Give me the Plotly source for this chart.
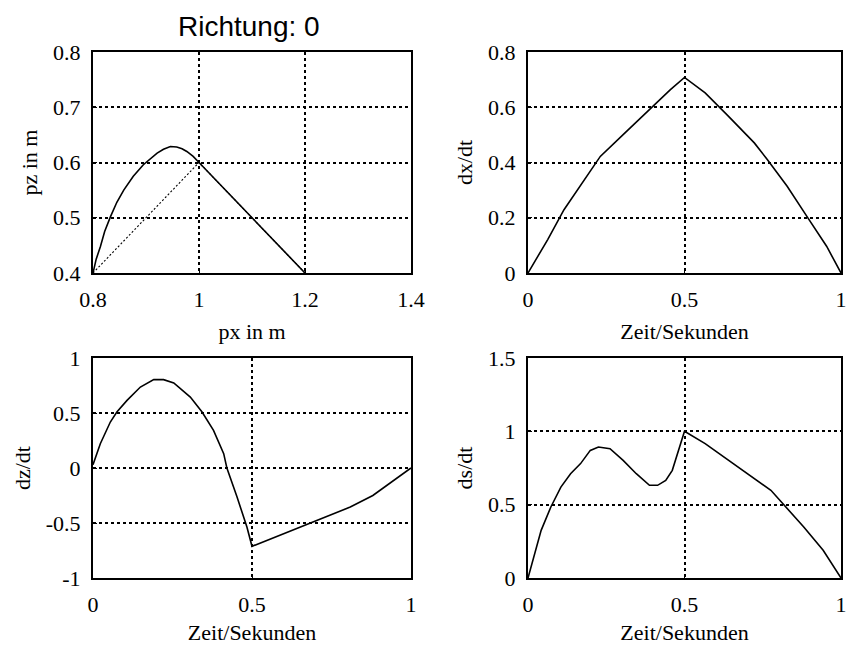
import plotly.graph_objects as go

# ---- data ----
# top-left: path in x-z plane
px_actual = [0.800, 0.806, 0.814, 0.822, 0.833, 0.845, 0.858, 0.876, 0.895, 0.908, 0.921, 0.933, 0.946, 0.958, 0.968, 0.977, 0.989, 1.000, 1.050, 1.100, 1.150, 1.200]
pz_actual = [0.400, 0.425, 0.448, 0.475, 0.502, 0.528, 0.550, 0.575, 0.596, 0.607, 0.617, 0.624, 0.629, 0.628, 0.625, 0.620, 0.611, 0.600, 0.550, 0.500, 0.450, 0.400]
px_plan = [0.8, 1.0, 1.2]
pz_plan = [0.4, 0.6, 0.4]

# time samples
t_dx = [0.0, 0.063, 0.115, 0.175, 0.231, 0.304, 0.360, 0.409, 0.455, 0.500, 0.566, 0.640, 0.723, 0.765, 0.828, 0.891, 0.954, 1.0]
dx_dt = [0.0, 0.121, 0.229, 0.330, 0.422, 0.501, 0.562, 0.615, 0.664, 0.708, 0.652, 0.568, 0.471, 0.410, 0.314, 0.205, 0.097, 0.0]

t_dz = [0.0, 0.023, 0.0545, 0.075, 0.107, 0.149, 0.191, 0.222, 0.254, 0.306, 0.343, 0.379, 0.411, 0.421, 0.453, 0.484, 0.500, 0.547, 0.600, 0.704, 0.809, 0.880, 0.945, 1.0]
dz_dt = [0.03, 0.221, 0.418, 0.509, 0.615, 0.736, 0.803, 0.803, 0.773, 0.645, 0.509, 0.342, 0.130, 0.0, -0.264, -0.536, -0.712, -0.658, -0.597, -0.476, -0.355, -0.250, -0.112, 0.0]

t_ds = [0.0, 0.021, 0.042, 0.073, 0.105, 0.136, 0.168, 0.199, 0.225, 0.262, 0.304, 0.346, 0.388, 0.414, 0.440, 0.461, 0.482, 0.500, 0.566, 0.671, 0.776, 0.881, 0.943, 1.0]
ds_dt = [0.0, 0.166, 0.325, 0.484, 0.620, 0.711, 0.780, 0.870, 0.893, 0.882, 0.802, 0.711, 0.632, 0.632, 0.666, 0.734, 0.870, 1.0, 0.916, 0.757, 0.598, 0.348, 0.189, 0.0]

# tick labels
px_ticks = [0.8, 1.0, 1.2, 1.4]
px_ticktext = ["0.8", "1", "1.2", "1.4"]
pz_ticks = [0.4, 0.5, 0.6, 0.7, 0.8]
pz_ticktext = ["0.4", "0.5", "0.6", "0.7", "0.8"]
t_ticks = [0, 0.5, 1]
t_ticktext = ["0", "0.5", "1"]
dx_ticks = [0, 0.2, 0.4, 0.6, 0.8]
dx_ticktext = ["0", "0.2", "0.4", "0.6", "0.8"]
dz_ticks = [-1, -0.5, 0, 0.5, 1]
dz_ticktext = ["-1", "-0.5", "0", "0.5", "1"]
ds_ticks = [0, 0.5, 1, 1.5]
ds_ticktext = ["0", "0.5", "1", "1.5"]

W, H = 849, 645
serif = "Liberation Serif"
FS = 22

fig = go.Figure()
line = dict(color="black", width=1.6)
fig.add_trace(go.Scatter(x=px_plan, y=pz_plan, mode="lines", line=dict(color="black", width=1.1, dash="2px,2px"), xaxis="x", yaxis="y", showlegend=False))
fig.add_trace(go.Scatter(x=px_actual, y=pz_actual, mode="lines", line=line, xaxis="x", yaxis="y", showlegend=False))
fig.add_trace(go.Scatter(x=t_dx, y=dx_dt, mode="lines", line=line, xaxis="x2", yaxis="y2", showlegend=False))
fig.add_trace(go.Scatter(x=t_dz, y=dz_dt, mode="lines", line=line, xaxis="x3", yaxis="y3", showlegend=False))
fig.add_trace(go.Scatter(x=t_ds, y=ds_dt, mode="lines", line=line, xaxis="x4", yaxis="y4", showlegend=False))

# domains in pixels
L = (93, 411)
R = (528, 841)
T = (52, 273)
B = (358, 578)

def xd(p):
    return [p[0] / W, p[1] / W]

def yd(p):
    return [1 - p[1] / H, 1 - p[0] / H]

def ax(domain, rng, tv, tt, title, anchor):
    return dict(
        domain=domain, range=rng, tickvals=tv, ticktext=tt, anchor=anchor,
        showline=True, mirror=True, linecolor="black", linewidth=2,
        showgrid=True, gridcolor="black", griddash="3px,3px", gridwidth=1.6,
        zeroline=False, ticks="inside", ticklen=4, tickcolor="black",
        tickfont=dict(family=serif, size=FS, color="black"),
        title=dict(text=title, font=dict(family=serif, size=FS, color="black")),
        fixedrange=True, automargin=False, ticklabeloverflow="allow",
    )

xa1 = ax(xd(L), [0.8, 1.4], px_ticks, px_ticktext, "px in m", "y")
ya1 = ax(yd(T), [0.4, 0.8], pz_ticks, pz_ticktext, "pz in m", "x")
xa2 = ax(xd(R), [0, 1], t_ticks, t_ticktext, "Zeit/Sekunden", "y2")
ya2 = ax(yd(T), [0, 0.8], dx_ticks, dx_ticktext, "dx/dt", "x2")
xa3 = ax(xd(L), [0, 1], t_ticks, t_ticktext, "Zeit/Sekunden", "y3")
ya3 = ax(yd(B), [-1, 1], dz_ticks, dz_ticktext, "dz/dt", "x3")
xa4 = ax(xd(R), [0, 1], t_ticks, t_ticktext, "Zeit/Sekunden", "y4")
ya4 = ax(yd(B), [0, 1.5], ds_ticks, ds_ticktext, "ds/dt", "x4")

for a in (xa1, xa2, xa3, xa4):
    a["ticklabelstandoff"] = 6
    a["title"]["standoff"] = 12
for a in (ya1, ya2, ya3, ya4):
    a["ticklabelstandoff"] = 6
    a["title"]["standoff"] = 9

fig.update_layout(
    width=W, height=H,
    margin=dict(l=0, r=0, t=0, b=0),
    paper_bgcolor="white", plot_bgcolor="white",
    xaxis=xa1, yaxis=ya1, xaxis2=xa2, yaxis2=ya2,
    xaxis3=xa3, yaxis3=ya3, xaxis4=xa4, yaxis4=ya4,
    annotations=[dict(
        text="Richtung: 0", x=249 / W, y=1 - 27 / H,
        xref="paper", yref="paper", xanchor="center", yanchor="middle",
        showarrow=False, font=dict(family="Liberation Sans", size=28, color="black"),
    )],
)

fig.write_html("out.html")
